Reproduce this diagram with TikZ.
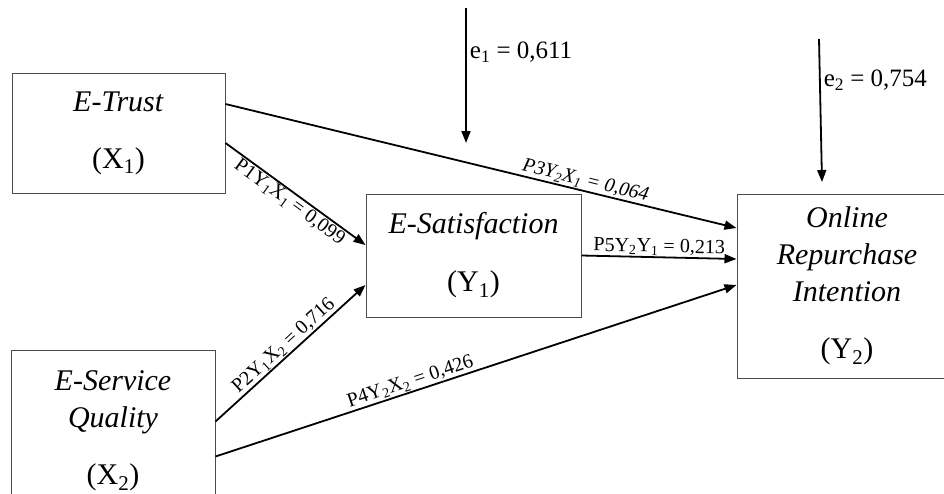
\documentclass[tikz,border=0pt]{standalone}
\usepackage{fontspec}
\setmainfont{Liberation Serif}
\usetikzlibrary{
    arrows.meta,
    positioning
}
\tikzstyle{arrow} = [-{Triangle[length=12pt,width=9pt]}, line width=1.8pt]
\tikzstyle{varbox} = [draw=black!70, line width=1pt, inner sep=0pt, align=center, font=\fontsize{30}{37}\selectfont]
\tikzstyle{coef} = [font=\fontsize{20}{22}\selectfont, sloped, inner sep=1pt]
\tikzstyle{errlbl} = [font=\fontsize{25}{26}\selectfont, right, inner sep=3pt]

\begin{document}
\begin{tikzpicture}[x=1pt,y=-1pt]
\useasboundingbox (0,0) rectangle (944,493);
% variables
\node[varbox, minimum width=213pt, minimum height=120pt] (trust) at (118.5,133) {\textit{E-Trust}\\[20pt](X\textsubscript{1})};
\node[varbox, minimum width=204pt, minimum height=162pt] (service) at (113,431) {\textit{E-Service}\\\textit{Quality}\\[20pt](X\textsubscript{2})};
\node[varbox, minimum width=215pt, minimum height=123pt] (satisf) at (473.5,255.5) {\textit{E-Satisfaction}\\[21pt](Y\textsubscript{1})};
\node[varbox, minimum width=220pt, minimum height=184pt] (intent) at (847,286) {\textit{Online}\\\textit{Repurchase}\\\textit{Intention}\\[20pt](Y\textsubscript{2})};
% paths
\draw[arrow] ([yshift=-10pt]trust.east) -- ([yshift=10.5pt]satisf.west) node[coef, below, pos=0.5] {P1Y\textsubscript{1}X\textsubscript{1} = 0,099};
\draw[arrow] ([yshift=9.5pt]service.east) -- ([yshift=-29.5pt]satisf.west) node[coef, above, pos=0.5] {P2Y\textsubscript{1}X\textsubscript{2} = 0,716};
\draw[arrow] ([yshift=29pt]trust.east) -- ([yshift=58pt]intent.west) node[coef, above, pos=0.70] {\textit{P3Y\textsubscript{2}X\textsubscript{1} = 0,064}};
\draw[arrow] ([yshift=-25.5pt]service.east) -- ([yshift=1pt]intent.west) node[coef, above, pos=0.38] {P4Y\textsubscript{2}X\textsubscript{2} = 0,426};
\draw[arrow] (satisf.east) -- ([yshift=27pt]intent.west) node[coef, above, pos=0.5] {P5Y\textsubscript{2}Y\textsubscript{1} = 0,213};
% errors
\coordinate (e1top) at (466,8);
\coordinate (e1tip) at (466,143);
\coordinate (e2top) at (819,39);
\coordinate (e2tip) at (822,182);
\draw[arrow] (e1top) -- (e1tip) node[errlbl, pos=0.33] {e\textsubscript{1} = 0,611};
\draw[arrow] (e2top) -- (e2tip) node[errlbl, pos=0.29] {e\textsubscript{2} = 0,754};
\end{tikzpicture}
\end{document}
